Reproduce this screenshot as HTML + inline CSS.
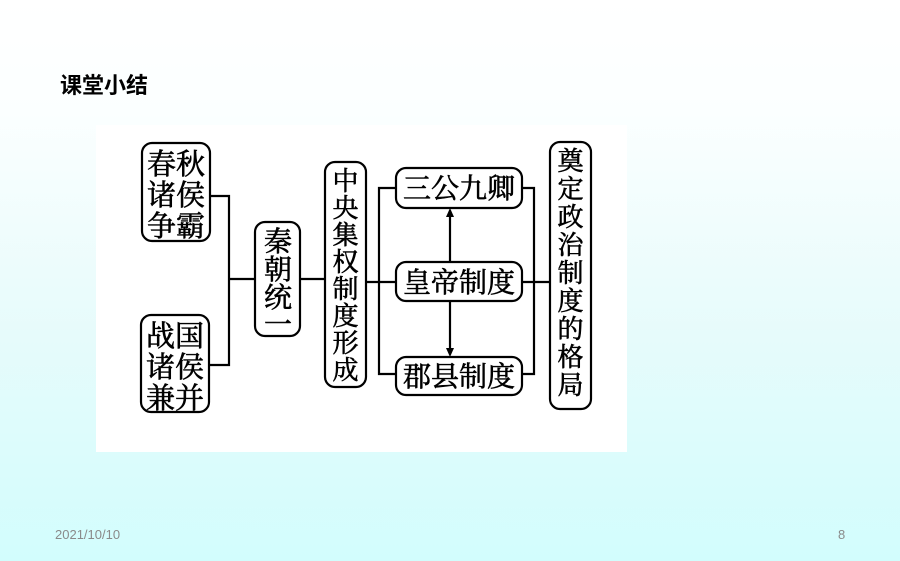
<!DOCTYPE html>
<html><head><meta charset="utf-8"><style>
html,body{margin:0;padding:0}
body{width:900px;height:561px;overflow:hidden;background:linear-gradient(180deg,#ffffff 0%,#fbffff 20%,#e6fbfb 60%,#d2fdfd 100%);position:relative;font-family:"Liberation Sans","Noto Sans CJK SC",sans-serif}
</style></head><body>
<div style="position:absolute;left:60px;top:68px;font-size:22px;font-weight:bold;color:#000;font-family:'Liberation Sans','Noto Sans CJK SC',sans-serif">课堂小结</div>
<div style="position:absolute;left:55px;top:527px;font-size:13px;color:#8a8a8a">2021/10/10</div>
<div style="position:absolute;left:838px;top:527px;font-size:13px;color:#8a8a8a">8</div>
<svg style="position:absolute;left:0;top:0" width="900" height="561" viewBox="0 0 900 561">
<rect x="96" y="125" width="531" height="327" fill="#fff"/>
<g fill="none" stroke="#000" stroke-width="2.2">
<rect x="142" y="143" width="68" height="98" rx="10"/>
<rect x="141" y="315" width="68" height="97" rx="10"/>
<rect x="255" y="222" width="45" height="114" rx="10"/>
<rect x="325" y="162" width="41" height="225" rx="10"/>
<rect x="396" y="168" width="126" height="40" rx="10"/>
<rect x="396" y="262" width="126" height="39" rx="10"/>
<rect x="396" y="357" width="126" height="38" rx="10"/>
<rect x="550" y="142" width="41" height="267" rx="10"/>
<polyline points="210,196 229,196 229,365 209,365"/>
<line x1="229" y1="279" x2="255" y2="279"/>
<line x1="300" y1="279" x2="325" y2="279"/>
<line x1="366" y1="282" x2="396" y2="282"/>
<polyline points="396,188 379,188 379,374 396,374"/>
<polyline points="522,188 534,188 534,374 522,374"/>
<line x1="522" y1="282" x2="550" y2="282"/>
<line x1="450" y1="262" x2="450" y2="214"/>
<line x1="450" y1="301" x2="450" y2="350"/>
</g>
<polygon points="450,208 446,217 454,217" fill="#000"/>
<polygon points="450,357 446,348 454,348" fill="#000"/>
<g font-family="'Liberation Serif','Noto Serif CJK SC',serif" font-weight="normal" stroke="#000" stroke-width="0.6" fill="#000" text-anchor="middle">
<g font-size="29">
<text x="176" y="174">春秋</text><text x="176" y="205">诸侯</text><text x="176" y="236">争霸</text>
<text x="175" y="346">战国</text><text x="175" y="377">诸侯</text><text x="175" y="408">兼并</text>
</g>
<g font-size="28">
<text x="278" y="251">秦</text><text x="278" y="279">朝</text><text x="278" y="307">统</text><text x="278" y="334">一</text>
<text x="459" y="198">三公九卿</text>
<text x="459" y="292">皇帝制度</text>
<text x="459" y="386">郡县制度</text>
</g>
<g font-size="26">
<text x="345.5" y="190">中</text><text x="345.5" y="217">央</text><text x="345.5" y="244">集</text><text x="345.5" y="271">权</text><text x="345.5" y="298">制</text><text x="345.5" y="325">度</text><text x="345.5" y="352">形</text><text x="345.5" y="379">成</text>
<text x="570.5" y="170">奠</text><text x="570.5" y="198">定</text><text x="570.5" y="226">政</text><text x="570.5" y="254">治</text><text x="570.5" y="282">制</text><text x="570.5" y="310">度</text><text x="570.5" y="338">的</text><text x="570.5" y="366">格</text><text x="570.5" y="394">局</text>
</g>
</g>
</svg>
</body></html>
